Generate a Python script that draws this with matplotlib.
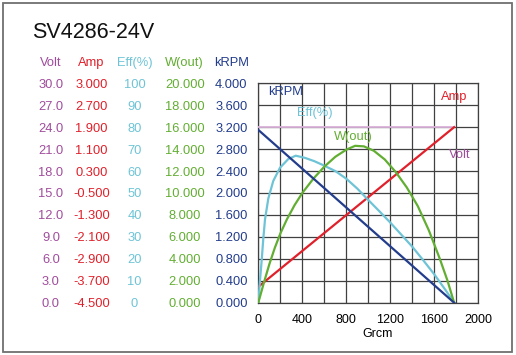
import matplotlib.pyplot as plt
from matplotlib.patches import Rectangle

plt.rcParams['font.family'] = ['Liberation Sans', 'DejaVu Sans']

title = "SV4286-24V"

# torque axis (Grcm)
x_ticks = [0, 400, 800, 1200, 1600, 2000]

# left label columns
volt_ticks = [0.0, 3.0, 6.0, 9.0, 12.0, 15.0, 18.0, 21.0, 24.0, 27.0, 30.0]
amp_ticks = [-4.5, -3.7, -2.9, -2.1, -1.3, -0.5, 0.3, 1.1, 1.9, 2.7, 3.5]
amp_labels = ["-4.500", "-3.700", "-2.900", "-2.100", "-1.300", "-0.500",
              "0.300", "1.100", "1.900", "2.700", "3.000"]
eff_ticks = [0, 10, 20, 30, 40, 50, 60, 70, 80, 90, 100]
w_ticks = [0, 2, 4, 6, 8, 10, 12, 14, 16, 18, 20]
rpm_ticks = [0.0, 0.4, 0.8, 1.2, 1.6, 2.0, 2.4, 2.8, 3.2, 3.6, 4.0]

# curves
rpm_x = [0, 1780]
rpm_y = [3.15, 0.0]

amp_x = [0, 1780]
amp_y = [-3.92, 1.90]

volt_x = [0, 1780]
volt_y = [24.0, 24.0]

eff_x = [0, 15, 31, 45, 61, 91, 136, 197, 273, 340, 425, 509, 576, 700, 800,
         900, 1000, 1100, 1200, 1300, 1400, 1500, 1600, 1700, 1780]
eff_y = [0, 10, 19.5, 29, 38, 47.5, 55.5, 61.5, 65.5, 67, 66, 64.5, 63, 60, 56.5,
         52, 46.8, 41.7, 36.5, 31, 25.5, 19.3, 12.9, 5.9, 0]

w_x = [0, 50, 100, 150, 200, 260, 330, 400, 500, 600, 700, 800, 880, 960,
       1050, 1150, 1250, 1350, 1450, 1550, 1650, 1720, 1780]
w_y = [0, 1.8, 3.5, 5.0, 6.3, 7.6, 8.9, 10.0, 11.3, 12.4, 13.3, 13.95, 14.3, 14.25,
       13.85, 13.05, 11.9, 10.5, 8.8, 6.6, 4.0, 2.0, 0]

c_volt = '#a04c9c'
c_volt_line = '#dcb4dc'
c_amp = '#e0202a'
c_eff = '#6ec4d6'
c_w = '#62ae32'
c_rpm = '#233d8c'
c_grid = '#404040'

fig = plt.figure(figsize=(5.16, 3.55), dpi=100)
ax = fig.add_axes([0.5006, 0.1473, 0.4264, 0.6181])

ax.set_xlim(0, 2000)
ax.set_ylim(0, 4.0)
ax.set_xticks(x_ticks)
ax.set_xticks(range(0, 2001, 200), minor=True)
ax.set_xticklabels([str(v) for v in x_ticks], fontsize=9)
ax.tick_params(axis='x', which='both', length=0, pad=8)
ax.set_xlabel('Grcm', fontsize=9)
ax.xaxis.set_label_coords(0.54, -0.115)
ax.grid(True, which='both', color=c_grid, lw=0.9)
for s in ax.spines.values():
    s.set_color(c_grid)
    s.set_linewidth(0.9)

ax.set_yticks(rpm_ticks)
ax.set_yticklabels(['%.3f' % v for v in rpm_ticks], color=c_rpm, fontsize=9.3)
ax.tick_params(axis='y', length=0, pad=19.4)
for t in ax.get_yticklabels():
    t.set_ha('center')


def label_axis(lim, ticks, labels, color, pad):
    a = ax.twinx()
    a.set_ylim(*lim)
    a.yaxis.tick_left()
    a.set_yticks(ticks)
    a.set_yticklabels(labels, color=color, fontsize=9.3)
    a.tick_params(axis='y', length=0, pad=pad)
    for t in a.get_yticklabels():
        t.set_ha('center')
    for s in a.spines.values():
        s.set_visible(False)
    return a


ax_volt = label_axis((0, 30), volt_ticks, ['%.1f' % v for v in volt_ticks], c_volt, 149.3)
ax_amp = label_axis((-4.5, 3.5), amp_ticks, amp_labels, c_amp, 120.2)
ax_eff = label_axis((0, 100), eff_ticks, [str(v) for v in eff_ticks], c_eff, 89.1)
ax_w = label_axis((0, 20), w_ticks, ['%.3f' % v for v in w_ticks], c_w, 53)

ax_volt.plot(volt_x, volt_y, color=c_volt_line, lw=1.3)
ax_eff.plot(eff_x, eff_y, color=c_eff, lw=1.6)
ax_w.plot(w_x, w_y, color=c_w, lw=1.6)
ax_amp.plot(amp_x, amp_y, color=c_amp, lw=1.6)
ax_w.plot(rpm_x, [v * 5 for v in rpm_y], color=c_rpm, lw=1.6)

# curve names inside the plot
ax_w.text(88, 19.2, 'kRPM', color=c_rpm, fontsize=9.3, va='center')
ax_w.text(352, 17.3, 'Eff(%)', color=c_eff, fontsize=9.3, va='center')
ax_w.text(688, 15.1, 'W(out)', color=c_w, fontsize=9.3, va='center')
ax_w.text(1661, 18.75, 'Amp', color=c_amp, fontsize=9.3, va='center')
ax_w.text(1734, 13.45, 'Volt', color=c_volt, fontsize=9.3, va='center')

# column headers
headers = ['Volt', 'Amp', 'Eff(%)', 'W(out)', 'kRPM']
header_x = [51, 91.3, 135.3, 184.7, 231.3]
header_c = [c_volt, c_amp, c_eff, c_w, c_rpm]
for h, hx, hc in zip(headers, header_x, header_c):
    fig.text(hx / 516, 0.814, h, color=hc, fontsize=9.3, ha='center', va='baseline')

fig.text(32 / 516, 0.894, title, fontsize=15.5, va='baseline', color='#111111')

fig.patches.append(Rectangle((0.0058, 0.0093), 0.9858, 0.9823, transform=fig.transFigure,
                             fill=False, edgecolor='#707070', lw=1.3))

fig.savefig('out.png', dpi=100)
